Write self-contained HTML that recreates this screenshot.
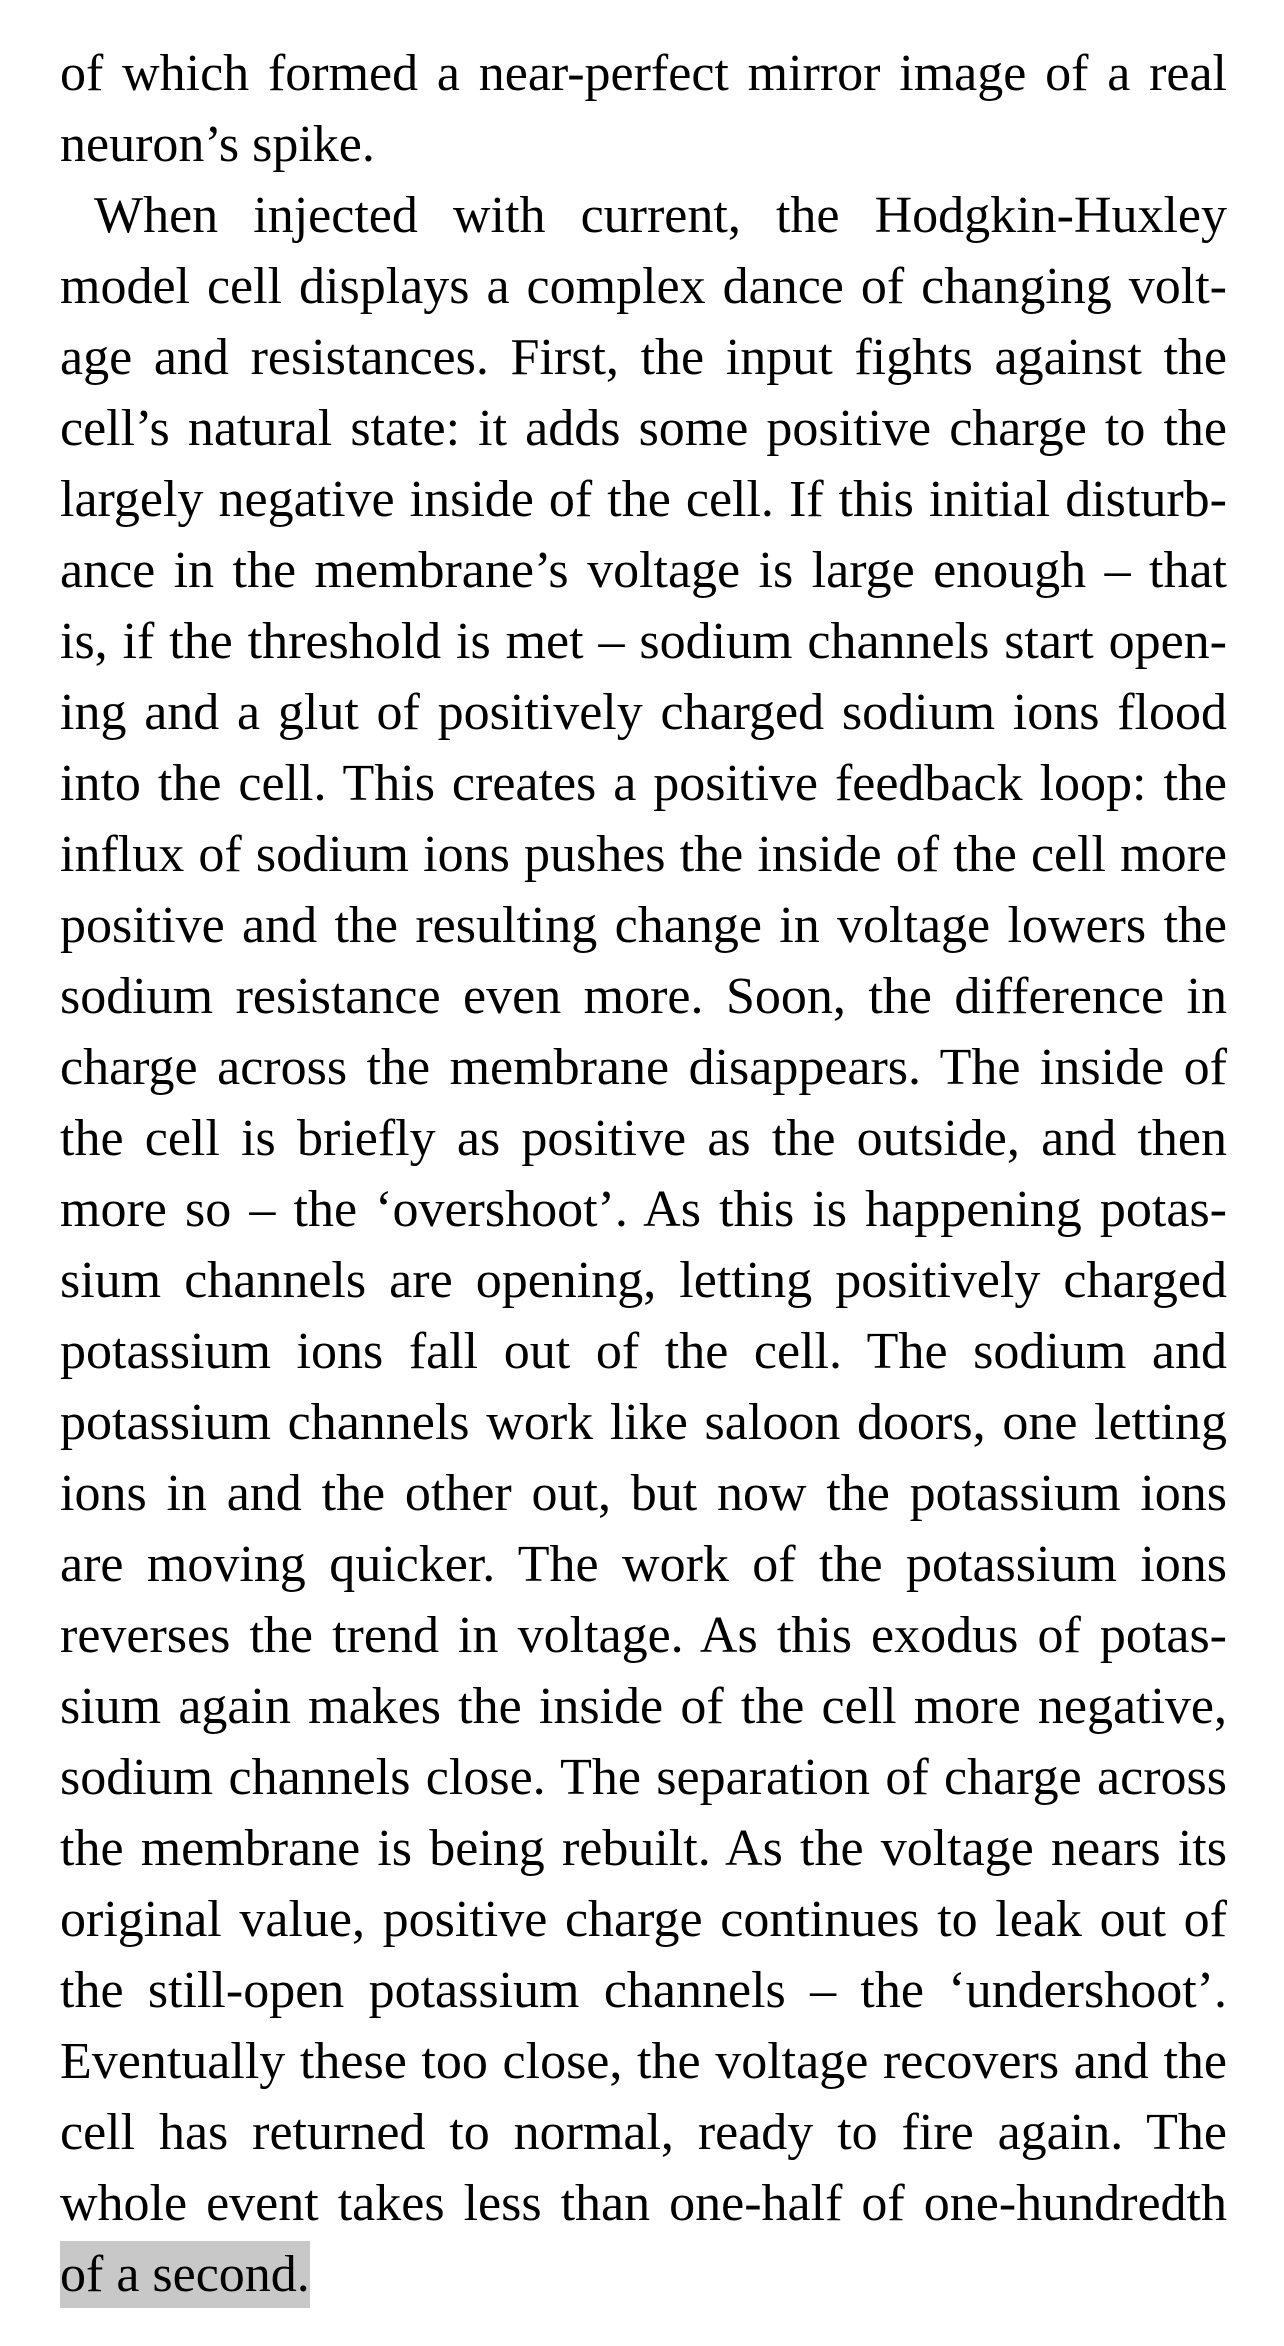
<!DOCTYPE html>
<html><head><meta charset="utf-8"><style>
html,body{margin:0;padding:0;background:#fff;}
body{width:1284px;height:2346px;overflow:hidden;}
#page{position:absolute;left:60px;top:38px;width:1167px;font-family:"Liberation Serif",serif;font-size:52px;color:#000;}
.l{height:71px;line-height:71px;white-space:nowrap;text-align:justify;text-align-last:justify;}
.last{text-align-last:left;}
.ind{padding-left:34px;}
.hl{background:#c8c8c8;display:inline-block;line-height:67px;}
</style></head><body>
<div id="page">
<div>
<div class="l">of which formed a near-perfect mirror image of a real</div>
<div class="l last">neuron’s spike.</div>
</div>
<div>
<div class="l ind">When injected with current, the Hodgkin-Huxley</div>
<div class="l">model cell displays a complex dance of changing volt-</div>
<div class="l">age and resistances. First, the input fights against the</div>
<div class="l">cell’s natural state: it adds some positive charge to the</div>
<div class="l">largely negative inside of the cell. If this initial disturb-</div>
<div class="l">ance in the membrane’s voltage is large enough – that</div>
<div class="l">is, if the threshold is met – sodium channels start open-</div>
<div class="l">ing and a glut of positively charged sodium ions flood</div>
<div class="l">into the cell. This creates a positive feedback loop: the</div>
<div class="l">influx of sodium ions pushes the inside of the cell more</div>
<div class="l">positive and the resulting change in voltage lowers the</div>
<div class="l">sodium resistance even more. Soon, the difference in</div>
<div class="l">charge across the membrane disappears. The inside of</div>
<div class="l">the cell is briefly as positive as the outside, and then</div>
<div class="l">more so – the ‘overshoot’. As this is happening potas-</div>
<div class="l">sium channels are opening, letting positively charged</div>
<div class="l">potassium ions fall out of the cell. The sodium and</div>
<div class="l">potassium channels work like saloon doors, one letting</div>
<div class="l">ions in and the other out, but now the potassium ions</div>
<div class="l">are moving quicker. The work of the potassium ions</div>
<div class="l">reverses the trend in voltage. As this exodus of potas-</div>
<div class="l">sium again makes the inside of the cell more negative,</div>
<div class="l">sodium channels close. The separation of charge across</div>
<div class="l">the membrane is being rebuilt. As the voltage nears its</div>
<div class="l">original value, positive charge continues to leak out of</div>
<div class="l">the still-open potassium channels – the ‘undershoot’.</div>
<div class="l">Eventually these too close, the voltage recovers and the</div>
<div class="l">cell has returned to normal, ready to fire again. The</div>
<div class="l">whole event takes less than one-half of one-hundredth</div>
<div class="l last"><span class="hl">of a second.</span></div>
</div>
</div>
</body></html>
